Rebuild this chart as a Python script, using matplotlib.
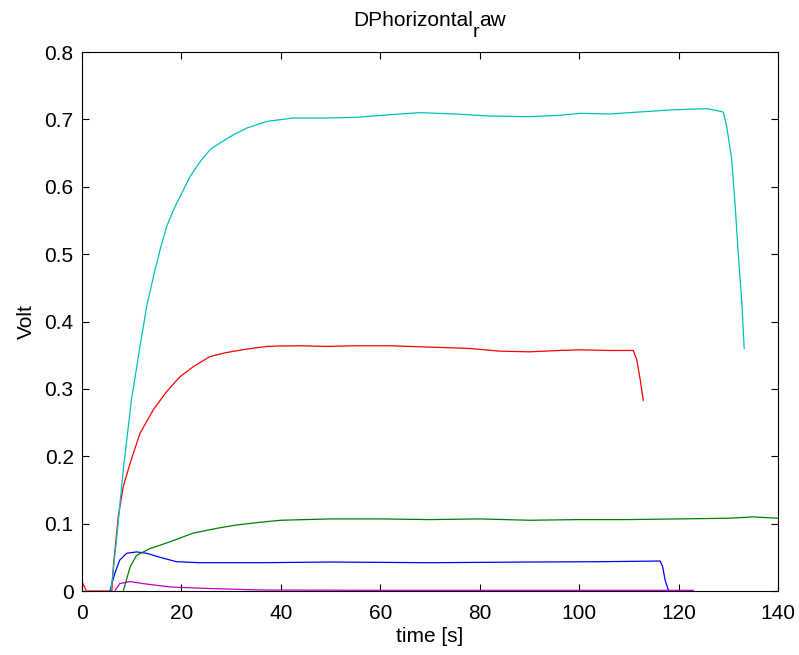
import matplotlib
matplotlib.use('Agg')
import matplotlib.pyplot as plt

plt.rcParams['font.family'] = ['Liberation Sans', 'DejaVu Sans']

# values (time in s, volt)
blue_t = [5.6, 6.6, 7.6, 9.0, 11.0, 13.0, 15.7, 19.0, 23.7, 35.8, 50, 70, 90, 104.2, 116.3, 116.8, 117.3, 118.0]
blue_v = [0, 0.026, 0.046, 0.056, 0.058, 0.056, 0.050, 0.0435, 0.042, 0.042, 0.043, 0.042, 0.043, 0.0435, 0.0445, 0.036, 0.016, 0]

green_t = [8.3, 9.7, 11.0, 13.7, 17.7, 22.4, 27.1, 31.1, 35.8, 40, 50, 60, 70, 80, 90, 100, 110, 120, 130, 135, 140]
green_v = [0, 0.036, 0.053, 0.063, 0.073, 0.086, 0.093, 0.098, 0.102, 0.105, 0.107, 0.107, 0.106, 0.107, 0.105, 0.106, 0.106, 0.107, 0.108, 0.110, 0.108]

red_t = [0, 0.9, 6.0, 6.3, 7.3, 8.3, 9.7, 10.0, 11.67, 14.35, 17.03, 19.71, 22.4, 25.75, 29.1, 33.1, 37.15,
         39.8, 43.9, 49.2, 55, 62, 70, 78, 84, 90, 96, 100.2, 106, 110.9, 111.6, 112.3, 112.9]
red_v = [0.014, 0, 0, 0.036, 0.11, 0.155, 0.19, 0.197, 0.234, 0.269, 0.296, 0.318, 0.333, 0.348, 0.354, 0.359, 0.363,
         0.3636, 0.364, 0.363, 0.364, 0.364, 0.362, 0.360, 0.356, 0.355, 0.357, 0.358, 0.357, 0.357, 0.343, 0.313, 0.283]

cyan_t = [5.8, 6.0, 7.0, 8.3, 9.99, 11.67, 13.0, 14.35, 15.69, 17.03, 18.37, 19.71, 21.73, 23.74, 25.75, 27.76,
          30.44, 33.13, 37.2, 42.4, 49.2, 55, 62, 68, 75, 82, 90, 96, 100.2, 106, 112.2, 118.3, 125.7,
          129.0, 129.7, 130.7, 131.4, 132.0, 132.7, 133.2]
cyan_v = [0, 0.011, 0.08, 0.18, 0.286, 0.363, 0.422, 0.466, 0.506, 0.541, 0.565, 0.585, 0.615, 0.637, 0.655, 0.665,
          0.677, 0.687, 0.697, 0.702, 0.702, 0.703, 0.707, 0.710, 0.708, 0.705, 0.704, 0.706, 0.709, 0.708, 0.711, 0.714, 0.716,
          0.711, 0.689, 0.64, 0.570, 0.501, 0.432, 0.360]

magenta_t = [6.6, 7.6, 9.7, 12.3, 17.7, 24.4, 35.8, 60, 90, 123]
magenta_v = [0, 0.011, 0.014, 0.011, 0.006, 0.004, 0.0015, 0.001, 0.001, 0.001]

W, H = 799, 655
fig = plt.figure(figsize=(W / 100, H / 100), dpi=100)
ax = fig.add_axes([0.1026, 0.0977, 0.8711, 0.8229])

lw = 0.9
ax.plot(blue_t, blue_v, color=(0, 0, 1), lw=lw)
ax.plot(green_t, green_v, color=(0, 0.5, 0), lw=lw)
ax.plot(red_t, red_v, color=(1, 0, 0), lw=lw)
ax.plot(cyan_t, cyan_v, color=(0, 0.75, 0.75), lw=lw)
ax.plot(magenta_t, magenta_v, color=(0.75, 0, 0.75), lw=lw)

ax.set_xlim(0, 140)
ax.set_ylim(0, 0.8)
ax.set_xticks(range(0, 141, 20))
ax.set_yticks([0, 0.1, 0.2, 0.3, 0.4, 0.5, 0.6, 0.7, 0.8])
ax.set_yticklabels(['0', '0.1', '0.2', '0.3', '0.4', '0.5', '0.6', '0.7', '0.8'])
ax.tick_params(direction='in', length=5, width=0.8, top=True, right=True, labelsize=15)
ax.tick_params(axis='x', pad=9)
ax.tick_params(axis='y', pad=6)
for s in ax.spines.values():
    s.set_linewidth(0.8)

ax.set_xlabel('time [s]', fontsize=15, labelpad=3)
ax.set_ylabel('Volt', fontsize=15, labelpad=6)

# title "DPhorizontal_raw" with the deep, tex-style subscript of the original
fig.canvas.draw()
rend = fig.canvas.get_renderer()
base_y = 1 - 26 / H
t1 = fig.text(353 / W, base_y, 'DPhorizontal', fontsize=15, va='baseline', ha='left')
x1 = t1.get_window_extent(rend).x1
t2 = fig.text(x1 / W, 1 - 37 / H, 'r', fontsize=14, va='baseline', ha='left')
x2 = t2.get_window_extent(rend).x1
fig.text(x2 / W, base_y, 'aw', fontsize=15, va='baseline', ha='left')

fig.savefig('out.png', dpi=100)
